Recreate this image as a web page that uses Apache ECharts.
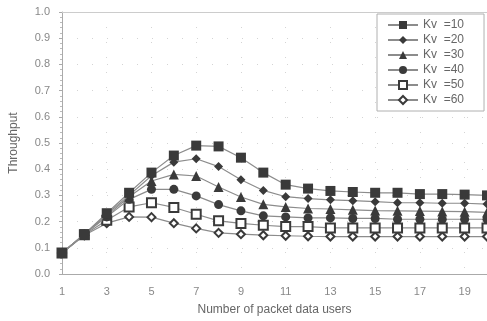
<!DOCTYPE html>
<html><head><meta charset="utf-8">
<script src="https://cdn.jsdelivr.net/npm/echarts@6/dist/echarts.min.js"></script>
<style>html,body{margin:0;padding:0;background:#fff}#c{width:487px;height:321px}</style>
</head><body><div id="c"></div>
<script>
var categories = ['1','2','3','4','5','6','7','8','9','10','11','12','13','14','15','16','17','18','19','20'];
var kv10 = [0.08,0.152,0.232,0.31,0.387,0.452,0.49,0.487,0.444,0.387,0.341,0.326,0.317,0.313,0.31,0.31,0.305,0.305,0.303,0.30];
var kv20 = [0.08,0.152,0.228,0.30,0.375,0.427,0.44,0.41,0.36,0.319,0.295,0.288,0.283,0.28,0.276,0.272,0.272,0.27,0.27,0.267];
var kv30 = [0.08,0.152,0.222,0.295,0.355,0.38,0.374,0.332,0.294,0.266,0.256,0.25,0.248,0.245,0.242,0.241,0.24,0.239,0.238,0.235];
var kv40 = [0.08,0.152,0.218,0.285,0.323,0.323,0.298,0.265,0.241,0.222,0.218,0.214,0.214,0.212,0.212,0.209,0.209,0.209,0.209,0.209];
var kv50 = [0.08,0.15,0.205,0.256,0.272,0.254,0.228,0.203,0.193,0.186,0.181,0.181,0.176,0.176,0.176,0.176,0.176,0.176,0.176,0.176];
var kv60 = [0.08,0.148,0.194,0.218,0.217,0.194,0.174,0.157,0.152,0.148,0.146,0.144,0.143,0.143,0.143,0.143,0.143,0.143,0.143,0.143];
var seriesNames = ['Kv  =10','Kv  =20','Kv  =30','Kv  =40','Kv  =50','Kv  =60'];
var seriesData = [kv10, kv20, kv30, kv40, kv50, kv60];
var symbols = ['rect','diamond','triangle','circle','emptyRect','emptyDiamond'];
var sizes = [10,9,10,9,9,8];

var chart = echarts.init(document.getElementById('c'));
var font = 'Liberation Sans, Arial, sans-serif';
var series = seriesData.map(function(d,i){
  return {
    name: seriesNames[i], type:'line', data:d, symbol:symbols[i], symbolSize:sizes[i],
    showAllSymbol:true,
    lineStyle:{color:'#8c8c8c', width:1.2},
    itemStyle:{color:'#3a3a3a', borderColor:'#444', borderWidth: i>=4?1.2:0},
    z: 10-i
  };
});
chart.setOption({
  animation:false,
  backgroundColor:'#fff',
  grid:{left:59, right:0, top:12, bottom:46},
  legend:{
    orient:'vertical', left:377, top:14,
    padding:[5,20,5,10], itemGap:3, itemWidth:30, itemHeight:10,
    borderColor:'#b0b0b0', borderWidth:1, backgroundColor:'#fff',
    textStyle:{color:'#666', fontSize:12, fontFamily:font},
    data:seriesNames
  },
  xAxis:[{
    type:'category', data:categories, boundaryGap:false,
    name:'Number of packet data users', nameLocation:'middle', nameGap:30,
    nameTextStyle:{color:'#666', fontSize:12, fontFamily:font},
    axisLine:{lineStyle:{color:'#aaa'}},
    axisTick:{show:false},
    axisLabel:{interval:1, color:'#888', fontSize:11, fontFamily:font, margin:12},
    splitLine:{show:true, interval:1, lineStyle:{color:'#d4d4d4', type:[1,14]}}
  },{
    type:'category', data:categories, boundaryGap:false, position:'top',
    axisLine:{show:true, lineStyle:{color:'#ccc'}}, axisTick:{show:false}, axisLabel:{show:false}
  }],
  yAxis:{
    type:'value', min:0, max:1, interval:0.1,
    name:'Throughput', nameLocation:'middle', nameGap:42,
    nameTextStyle:{color:'#666', fontSize:12, fontFamily:font},
    axisLine:{show:true, lineStyle:{color:'#aaa'}},
    axisTick:{show:true, length:3, lineStyle:{color:'#aaa'}},
    minorTick:{show:true, splitNumber:5, length:2, lineStyle:{color:'#bbb'}},
    axisLabel:{formatter:function(v){return v.toFixed(1);}, color:'#888', fontSize:11, fontFamily:font, margin:12},
    splitLine:{show:true, lineStyle:{color:'#d4d4d4', type:[1,14]}}
  },
  series:series
});
</script></body></html>
